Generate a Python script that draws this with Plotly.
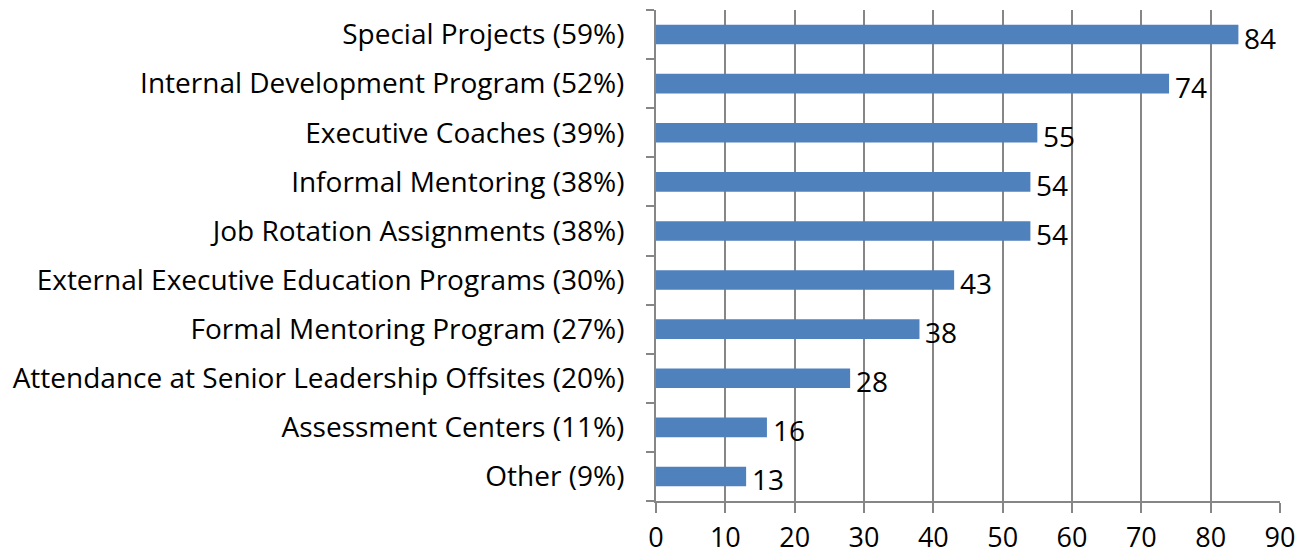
import plotly.graph_objects as go

# Data (bottom to top, as plotted)
categories = [
    "Other (9%)",
    "Assessment Centers (11%)",
    "Attendance at Senior Leadership Offsites (20%)",
    "Formal Mentoring Program (27%)",
    "External Executive Education Programs (30%)",
    "Job Rotation Assignments (38%)",
    "Informal Mentoring (38%)",
    "Executive Coaches (39%)",
    "Internal Development Program (52%)",
    "Special Projects (59%)",
]
values = [13, 16, 28, 38, 43, 54, 54, 55, 74, 84]
x_ticks = [0, 10, 20, 30, 40, 50, 60, 70, 80, 90]

grey = "#868686"
font_family = "'Open Sans', sans-serif"
fsize = 28

fig = go.Figure()

fig.add_trace(
    go.Bar(
        y=categories, x=values, orientation="h",
        marker=dict(color="#4F81BD", line=dict(width=0)),
        width=0.4,
    )
)

# value labels just right of each bar
for cat, v in zip(categories, values):
    fig.add_annotation(
        x=v, y=cat, text=str(v), showarrow=False,
        xanchor="left", xshift=4, yshift=-3,
        font=dict(size=fsize, color="black", family=font_family),
    )

fig.update_xaxes(
    range=[0, 90], tickvals=x_ticks, ticktext=[str(t) for t in x_ticks],
    showgrid=True, gridcolor=grey, gridwidth=2,
    showline=True, linecolor=grey, linewidth=2,
    ticks="outside", ticklen=10, tickwidth=2, tickcolor=grey,
    tickfont=dict(size=27, color="black", family=font_family),
    zeroline=False, ticklabelstandoff=2,
)

fig.update_yaxes(
    showline=True, linecolor=grey, linewidth=2,
    ticks="outside", ticklen=8, tickwidth=2, tickcolor=grey,
    tickson="boundaries",
    tickfont=dict(size=fsize, color="black", family=font_family),
    showgrid=False, ticklabelstandoff=24,
)

# the page body has an 8px margin, so the figure is sized/offset for it
fig.update_layout(
    width=1302, height=548,
    margin=dict(l=648, r=30, t=2, b=55, autoexpand=False),
    plot_bgcolor="white", paper_bgcolor="white",
    showlegend=False,
    bargap=0.6,
)

fig.write_html("out.html")
